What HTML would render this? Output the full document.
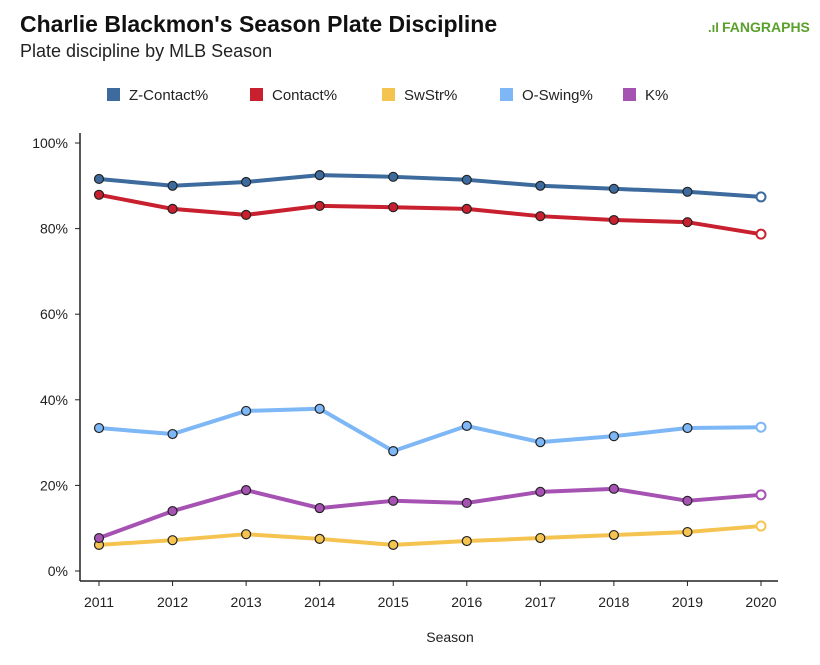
<!DOCTYPE html>
<html><head><meta charset="utf-8"><style>
body{margin:0;background:#fff;font-family:"Liberation Sans",sans-serif;}
#wrap{position:relative;width:820px;height:665px;overflow:hidden;}
</style></head><body>
<div id="wrap">
<svg id="chart" width="820" height="665" xmlns="http://www.w3.org/2000/svg">
<text x="20" y="32" font-size="23" font-weight="bold" fill="#111">Charlie Blackmon's Season Plate Discipline</text>
<text x="20" y="57" font-size="18" fill="#222">Plate discipline by MLB Season</text>
<g>
<text x="708" y="32" font-size="13" font-weight="bold" fill="#5aa02c">.ıl</text>
<text x="722" y="32" font-size="14" font-weight="bold" fill="#5aa02c">FANGRAPHS</text>
</g>
<g id="legend"></g>
<g id="axes"></g>
<g id="series"></g>
<text x="450" y="642" font-size="14" fill="#222" text-anchor="middle">Season</text>
</svg>
</div>
<script>
const seasons=[2011,2012,2013,2014,2015,2016,2017,2018,2019,2020];
const yTicks=[0,20,40,60,80,100];
const seriesNames=["Z-Contact%","Contact%","SwStr%","O-Swing%","K%"];
const zContact=[91.6,90.0,90.9,92.5,92.1,91.4,90.0,89.3,88.6,87.4];
const contact=[87.9,84.6,83.2,85.3,85.0,84.6,82.9,82.0,81.5,78.7];
const swStr=[6.1,7.2,8.6,7.5,6.1,7.0,7.7,8.4,9.1,10.5];
const oSwing=[33.4,32.0,37.4,37.9,28.0,33.9,30.1,31.5,33.4,33.6];
const kPct=[7.7,14.0,18.9,14.7,16.4,15.9,18.5,19.2,16.4,17.8];
const colors=["#3d6b9e","#c8202f","#f5c350","#7db7f5","#a552b2"];
const allSeries=[zContact,contact,swStr,oSwing,kPct];
const NS="http://www.w3.org/2000/svg";
const x=i=>99+(761-99)*(i/(seasons.length-1));
const y=v=>571-v*4.28;
function mk(tag,attrs,parent,text){const e=document.createElementNS(NS,tag);for(const k in attrs)e.setAttribute(k,attrs[k]);if(text!==undefined)e.textContent=text;parent.appendChild(e);return e;}
const axes=document.getElementById('axes');
const la=mk('line',{x1:80,y1:133,x2:80,y2:581,stroke:'#222','stroke-width':1.5},axes);


const ba=mk('line',{x1:80,y1:581,x2:778,y2:581,stroke:'#222','stroke-width':1.5},axes);


yTicks.forEach(t=>{
 mk('line',{x1:75,y1:y(t),x2:80,y2:y(t),stroke:'#222'},axes);
 const tl=mk('text',{x:68,y:y(t)+5,'font-size':14,'text-anchor':'end',fill:'#222'},axes,t+'%');
 
 
});
seasons.forEach((s,i)=>{
 mk('line',{x1:x(i),y1:581,x2:x(i),y2:586,stroke:'#222'},axes);
 const tl=mk('text',{x:x(i),y:607,'font-size':14,'text-anchor':'middle',fill:'#222'},axes,s);
 
 
});
const sg=document.getElementById('series');
allSeries.forEach((vals,si)=>{
 const g=mk('g',{},sg);
 
 
 mk('polyline',{points:vals.map((v,i)=>x(i)+','+y(v)).join(' '),fill:'none',stroke:colors[si],'stroke-width':4,'stroke-linejoin':'round'},g);
 vals.forEach((v,i)=>{
  const last=i===vals.length-1;
  const c=mk('circle',{cx:x(i),cy:y(v),r:4.5,fill:last?'#fff':colors[si],stroke:last?colors[si]:'#222','stroke-width':last?2:1.2},g);
  
  
 });
});
const lg=document.getElementById('legend');
const lx=[107,250,382,500,623];
seriesNames.forEach((n,i)=>{
 const g=mk('g',{},lg);
 
 
 mk('rect',{x:lx[i],y:88,width:13,height:13,fill:colors[i]},g);
 mk('text',{x:lx[i]+22,y:100,'font-size':15,fill:'#222'},g,n);
});
</script>
</body></html>
